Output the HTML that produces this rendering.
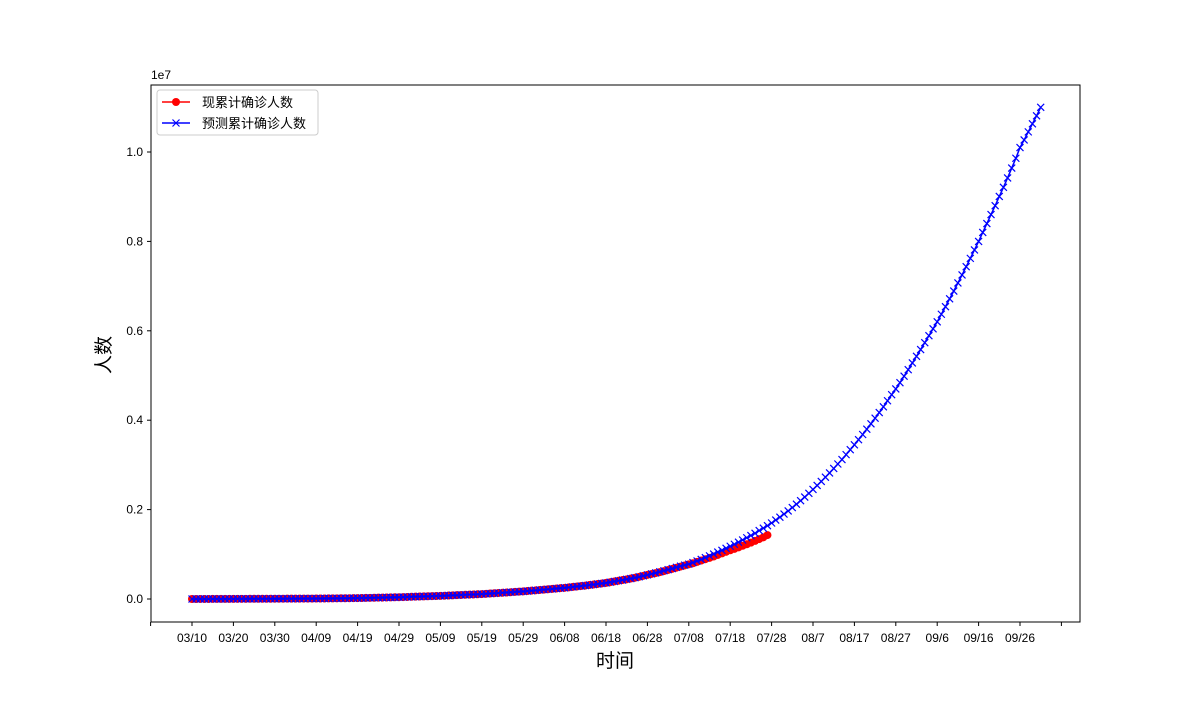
<!DOCTYPE html>
<html><head><meta charset="utf-8"><style>
body{margin:0;background:#fff;}
svg text{font-family:"Liberation Sans","Noto Sans CJK SC",sans-serif;}
</style></head><body>
<svg id="chart" width="1200" height="700" xmlns="http://www.w3.org/2000/svg"></svg>
<script>
const tickLabels=["03/10","03/20","03/30","04/09","04/19","04/29","05/09","05/19","05/29","06/08","06/18","06/28","07/08","07/18","07/28","08/7","08/17","08/27","09/6","09/16","09/26"];
const yTicks=[0,0.2,0.4,0.6,0.8,1.0];
// values in units of 10,000 people
const predicted=[0,0.03,0.06,0.09,0.12,0.15,0.18,0.21,0.24,0.27,
0.3,0.33,0.36,0.39,0.42,0.45,0.48,0.51,0.54,0.57,
0.6,0.64,0.68,0.72,0.76,0.8,0.84,0.88,0.92,0.96,
1,1.1,1.2,1.3,1.4,1.5,1.6,1.7,1.8,1.9,
2,2.2,2.4,2.6,2.8,3,3.2,3.4,3.6,3.8,
4,4.3,4.6,4.9,5.2,5.5,5.8,6.1,6.4,6.7,
7,7.4,7.8,8.2,8.6,9,9.4,9.8,10.2,10.6,
11,11.6,12.2,12.8,13.4,14,14.6,15.2,15.8,16.4,
17,17.8,18.6,19.4,20.2,21,21.8,22.6,23.4,24.2,
25,26,27,28,29,30,31.2,32.4,33.6,34.8,
36,37.6,39.2,40.8,42.4,44,45.8,47.6,49.6,51.8,
54,56.2,58.4,60.8,63.2,65.6,68.2,70.8,73.4,75.8,
78,81.5,85,88.5,92.5,96.5,100.5,105,109,113.5,
118,122.5,127,132,137,142,147,153,158.5,164,
170,176.5,183,190,197,204.5,212,220,228,236.5,
245,254,263,272.5,282,292,302,312,323,334,
345,356.5,368,380,392,404.5,417,430,443.5,457,
470,484,498.5,513,528,543,558,573.5,589,604.5,
620,637,654,671.5,689,707,725,743.5,762,781,
800,820,840,860,880,900.5,921,942,964,986,
1010,1027,1045,1063,1081,1100];
const actual=[0,0.03,0.06,0.09,0.12,0.15,0.18,0.21,0.24,0.27,
0.3,0.33,0.36,0.39,0.42,0.45,0.48,0.51,0.54,0.57,
0.6,0.64,0.68,0.72,0.76,0.8,0.84,0.88,0.92,0.96,
1,1.1,1.2,1.3,1.4,1.5,1.6,1.7,1.8,1.9,
2,2.2,2.4,2.6,2.8,3,3.2,3.4,3.6,3.8,
4,4.3,4.6,4.9,5.2,5.5,5.8,6.1,6.4,6.7,
7,7.4,7.8,8.2,8.6,9,9.4,9.8,10.2,10.6,
11,11.6,12.2,12.8,13.4,14,14.6,15.2,15.8,16.4,
17,17.8,18.6,19.4,20.2,21,21.8,22.6,23.4,24.2,
25,26,27,28,29,30,31.2,32.4,33.6,34.8,
36,37.6,39.2,40.8,42.4,44,45.8,47.6,49.6,51.8,
54,56,58,60,62.5,65,67.5,70,72.5,75,
77.5,80,83,86,89,92,95,98.5,102,105.5,
109,112,115.5,119,122.5,126,130,134,138,143];

const NS="http://www.w3.org/2000/svg";
const svg=document.getElementById('chart');
const L=151,R=1080,T=85,B=622;
const x0=192,dx=4.14;
const xs=i=>x0+i*dx;
const ys=v=>599-v*0.447; // v in 10k
function mk(tag,attrs,parent){const e=document.createElementNS(NS,tag);for(const k in attrs)e.setAttribute(k,attrs[k]);(parent||svg).appendChild(e);return e;}

const frame=mk('rect',{x:L,y:T,width:R-L,height:B-T,fill:'none',stroke:'#000','stroke-width':1});



// x ticks
const xg=mk('g',{});


for(let k=-1;k<=tickLabels.length;k++){
  const x=xs(k*10);
  mk('line',{x1:x,y1:B,x2:x,y2:B+4,stroke:'#000'},xg);
  if(k>=0&&k<tickLabels.length){
    const t=mk('text',{x:x,y:B+20,'font-size':12,'text-anchor':'middle'},xg);
    t.textContent=tickLabels[k];
    
    
  }
}
// y ticks
const yg=mk('g',{});


yTicks.forEach(v=>{
  const y=ys(v*1000);
  mk('line',{x1:L-4,y1:y,x2:L,y2:y,stroke:'#000'},yg);
  const t=mk('text',{x:L-8,y:y+4,'font-size':12,'text-anchor':'end'},yg);
  t.textContent=v.toFixed(1);
  
  
});
const off=mk('text',{x:L,y:T-6,'font-size':12});
off.textContent='1e7';



const yl=mk('text',{x:0,y:0,'font-size':19,'text-anchor':'middle',transform:'translate(110,355) rotate(-90)'});
yl.textContent='人数';


const xl=mk('text',{x:615,y:667,'font-size':19,'text-anchor':'middle'});
xl.textContent='时间';



// red series
const rg=mk('g',{});


mk('polyline',{points:actual.map((v,i)=>xs(i)+','+ys(v)).join(' '),fill:'none',stroke:'#f00','stroke-width':1.5},rg);
actual.forEach((v,i)=>{
  const c=mk('circle',{cx:xs(i),cy:ys(v),r:4,fill:'#f00'},rg);
  
  
});
// blue series
const bg=mk('g',{});


mk('polyline',{points:predicted.map((v,i)=>xs(i)+','+ys(v)).join(' '),fill:'none',stroke:'#00f','stroke-width':1.5},bg);
predicted.forEach((v,i)=>{
  const x=xs(i),y=ys(v),s=3.5;
  const p=mk('path',{d:`M${x-s},${y-s}L${x+s},${y+s}M${x-s},${y+s}L${x+s},${y-s}`,stroke:'#00f','stroke-width':1.2},bg);
  
  
});

// legend
const lg=mk('g',{});


mk('rect',{x:157,y:90,width:161,height:45,rx:3,fill:'#fff',stroke:'#ccc'},lg);
mk('line',{x1:162,y1:102,x2:190,y2:102,stroke:'#f00','stroke-width':1.5},lg);
mk('circle',{cx:176,cy:102,r:4,fill:'#f00'},lg);
const t1=mk('text',{x:202,y:107,'font-size':13},lg);t1.textContent='现累计确诊人数';


mk('line',{x1:162,y1:123,x2:190,y2:123,stroke:'#00f','stroke-width':1.5},lg);
mk('path',{d:'M172.5,119.5L179.5,126.5M172.5,126.5L179.5,119.5',stroke:'#00f','stroke-width':1.2},lg);
const t2=mk('text',{x:202,y:128,'font-size':13},lg);t2.textContent='预测累计确诊人数';


</script>
</body></html>
